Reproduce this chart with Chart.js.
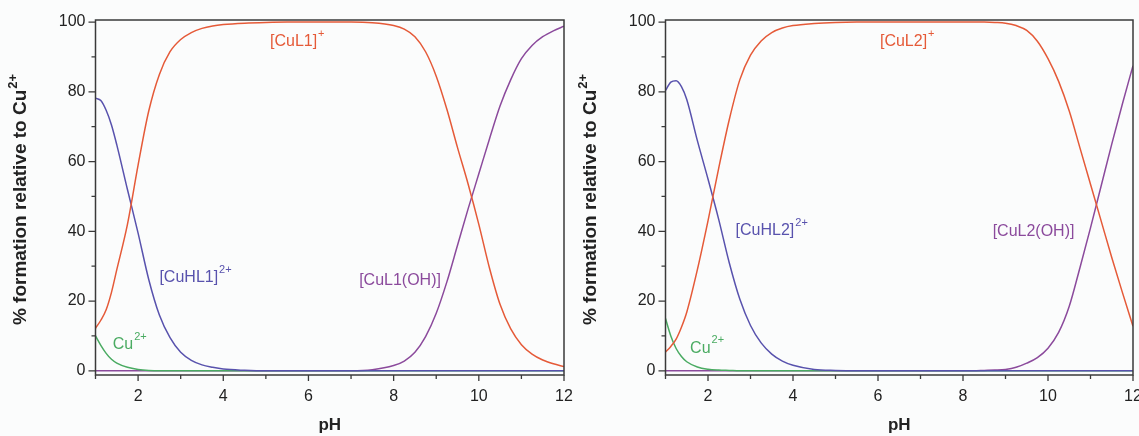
<!DOCTYPE html>
<html>
<head>
<meta charset="utf-8">
<script src="https://cdn.jsdelivr.net/npm/chart.js@4"></script>
<style>
  body { margin: 0; background: #fbfcfc; }
  #wrap { position: relative; width: 1139px; height: 436px; overflow: hidden; }
  .panel { position: absolute; top: 0; }
</style>
</head>
<body>
<div id="wrap">
  <canvas class="panel" id="chart1" width="590" height="436" style="left:0"></canvas>
  <canvas class="panel" id="chart2" width="569" height="436" style="left:570px"></canvas>
</div>
<script>
// pH grid shared by both panels
const phGrid = [1, 1.125, 1.25, 1.375, 1.5, 1.75, 2, 2.25, 2.5, 2.75, 3, 3.25, 3.5, 3.75, 4,
  4.5, 5, 5.5, 6, 6.5, 7, 7.5, 8, 8.25, 8.5, 8.75, 9, 9.25, 9.5, 9.75, 10,
  10.25, 10.5, 10.75, 11, 11.25, 11.5, 11.75, 12];

// left panel (L1)
const cuL1 = [12.2, 14.5, 17.5, 22.5, 29, 42, 59, 74.5, 85, 91.5, 95, 97, 98.2, 98.9, 99.3,
  99.7, 99.9, 100, 100, 100, 100, 99.8, 99, 98, 95.8, 91.5, 84.5, 75, 64, 53.5, 42,
  29.5, 19, 12, 7.5, 4.8, 3.1, 2, 1.2];
const cuHL1 = [78.2, 77.5, 74.7, 70.5, 64.8, 52, 39.5, 26.2, 16, 9.5, 5.3, 3, 1.7, 1, 0.5,
  0.15, 0, 0, 0, 0, 0, 0, 0, 0, 0, 0, 0, 0, 0, 0, 0,
  0, 0, 0, 0, 0, 0, 0, 0];
const cuFree1 = [10, 7.3, 5, 3.3, 2.2, 1, 0.4, 0.1, 0, 0, 0, 0, 0, 0, 0,
  0, 0, 0, 0, 0, 0, 0, 0, 0, 0, 0, 0, 0, 0, 0, 0,
  0, 0, 0, 0, 0, 0, 0, 0];
const cuL1OH = [0, 0, 0, 0, 0, 0, 0, 0, 0, 0, 0, 0, 0, 0, 0,
  0, 0, 0, 0, 0, 0, 0.3, 1.5, 2.8, 5.3, 9.8, 16.5, 25.5, 36, 46.5, 56.5,
  66.5, 76, 83.5, 89.5, 93.3, 95.8, 97.5, 98.8];

// right panel (L2)
const cuL2 = [5.4, 7, 9.1, 12.5, 16.8, 29, 43, 58, 72, 83.5, 90.5, 94.6, 97, 98.3, 99,
  99.6, 99.9, 100, 100, 100, 100, 100, 100, 100, 100, 99.9, 99.7, 99, 97.6, 94.5, 89.5,
  83, 74.5, 64, 53.5, 43, 32.5, 22.5, 12.8];
const cuHL2 = [80.4, 82.8, 83.2, 81.5, 77.8, 66, 55, 43.5, 31, 20.5, 13, 8, 4.8, 2.8, 1.6,
  0.4, 0.1, 0, 0, 0, 0, 0, 0, 0, 0, 0, 0, 0, 0, 0, 0,
  0, 0, 0, 0, 0, 0, 0, 0];
const cuFree2 = [15, 10, 6.4, 4.1, 2.6, 1.1, 0.45, 0.2, 0.1, 0, 0, 0, 0, 0, 0,
  0, 0, 0, 0, 0, 0, 0, 0, 0, 0, 0, 0, 0, 0, 0, 0,
  0, 0, 0, 0, 0, 0, 0, 0];
const cuL2OH = [0, 0, 0, 0, 0, 0, 0, 0, 0, 0, 0, 0, 0, 0, 0,
  0, 0, 0, 0, 0, 0, 0, 0, 0, 0.1, 0.2, 0.4, 1, 2.2, 3.8, 6.5,
  11, 18.5, 29.5, 41, 53, 65, 76.5, 87.5];

const xTicks = [1, 2, 3, 4, 5, 6, 7, 8, 9, 10, 11, 12];
const yTicks = [0, 10, 20, 30, 40, 50, 60, 70, 80, 90, 100];

// species labels: [text, superscript, pH, %, colour]
const notes1 = [
  ["[CuL1]", "+", 5.65, 94.3, "red"],
  ["[CuHL1]", "2+", 3.19, 26.6, "blue"],
  ["Cu", "2+", 1.645, 7.4, "green"],
  ["[CuL1(OH)]", "", 8.15, 26, "purple"]
];
const notes2 = [
  ["[CuL2]", "+", 6.6, 94.3, "red"],
  ["[CuHL2]", "2+", 3.34, 40.2, "blue"],
  ["Cu", "2+", 1.82, 6.5, "green"],
  ["[CuL2(OH)]", "", 9.66, 39.8, "purple"]
];

const colors = { red: "#e55a38", blue: "#5852ad", green: "#4aab62", purple: "#8b4a9c" };
const fontFam = '"Liberation Sans", Arial, sans-serif';

function framePlugin(notes) {
  return {
    id: "frame",
    afterDraw(chart) {
      const ctx = chart.ctx;
      const a = chart.chartArea;
      const xs = chart.scales.x;
      const ys = chart.scales.y;
      ctx.save();
      ctx.strokeStyle = "#3a3a3a";
      ctx.lineWidth = 1.5;
      ctx.strokeRect(a.left, a.top, a.right - a.left, a.bottom - a.top);
      ctx.lineWidth = 1.3;
      ctx.beginPath();
      xTicks.forEach((v) => {
        const px = xs.getPixelForValue(v);
        ctx.moveTo(px, a.bottom);
        ctx.lineTo(px, a.bottom + (v % 2 === 0 ? 6 : 4));
      });
      yTicks.forEach((v) => {
        const py = ys.getPixelForValue(v);
        ctx.moveTo(a.left, py);
        ctx.lineTo(a.left - (v % 20 === 0 ? 7 : 4), py);
      });
      ctx.stroke();

      // species labels
      notes.forEach(([txt, sup, x, y, c]) => {
        const px = xs.getPixelForValue(x);
        const py = ys.getPixelForValue(y);
        ctx.fillStyle = colors[c];
        ctx.font = "16px " + fontFam;
        ctx.textAlign = "center";
        ctx.textBaseline = "middle";
        ctx.fillText(txt, px, py);
        const w = ctx.measureText(txt).width;
        if (sup) {
          ctx.font = "11px " + fontFam;
          ctx.textAlign = "left";
          ctx.fillText(sup, px + w / 2 + 1, py - 8);
        }
      });

      // y axis title with superscript
      ctx.fillStyle = "#222";
      ctx.translate(21, (a.top + a.bottom) / 2 + 2);
      ctx.rotate(-Math.PI / 2);
      ctx.font = "bold 19px " + fontFam;
      ctx.textAlign = "left";
      ctx.textBaseline = "middle";
      const main = "% formation relative to Cu";
      const w1 = ctx.measureText(main).width;
      ctx.font = "bold 13px " + fontFam;
      const w2 = ctx.measureText("2+").width;
      const start = -(w1 + w2 + 1) / 2;
      ctx.font = "bold 19px " + fontFam;
      ctx.fillText(main, start, 0);
      ctx.font = "bold 13px " + fontFam;
      ctx.fillText("2+", start + w1 + 1, -8);
      ctx.restore();
    }
  };
}

function makeChart(id, series, notes, padRight) {
  const datasets = series.map(([vals, c]) => ({
    data: phGrid.map((x, i) => ({ x: x, y: vals[i] })),
    borderColor: colors[c],
    borderWidth: 1.5,
    pointRadius: 0,
    fill: false,
    cubicInterpolationMode: "monotone"
  }));

  return new Chart(document.getElementById(id), {
    type: "line",
    data: { datasets },
    options: {
      responsive: false,
      animation: false,
      layout: { padding: { left: 0, right: padRight, top: 20, bottom: 0 } },
      plugins: { legend: { display: false }, tooltip: { enabled: false } },
      scales: {
        x: {
          type: "linear",
          min: 1,
          max: 12,
          afterBuildTicks: (s) => { s.ticks = xTicks.map((v) => ({ value: v })); },
          afterFit: (s) => { s.height = 61; s.paddingLeft = 0; s.paddingRight = 0; },
          ticks: {
            autoSkip: false,
            maxRotation: 0,
            padding: 6,
            color: "#222",
            font: { size: 16, family: fontFam },
            callback: (v) => (v % 2 === 0 ? String(v) : "")
          },
          grid: { drawOnChartArea: false, tickLength: 6, color: "transparent" },
          border: { display: false },
          title: {
            display: true,
            text: "pH",
            color: "#222",
            font: { size: 17, weight: "bold", family: fontFam },
            padding: { top: 0, bottom: 0 }
          }
        },
        y: {
          min: -1.2,
          max: 100.6,
          afterBuildTicks: (s) => { s.ticks = yTicks.map((v) => ({ value: v })); },
          afterFit: (s) => { s.width = 95.5; s.paddingTop = 0; s.paddingBottom = 0; },
          ticks: {
            autoSkip: false,
            padding: 3,
            color: "#222",
            font: { size: 16, family: fontFam },
            callback: (v) => (v % 20 === 0 ? String(v) : "")
          },
          grid: { drawOnChartArea: false, tickLength: 7, color: "transparent" },
          border: { display: false }
        }
      }
    },
    plugins: [framePlugin(notes)]
  });
}

makeChart("chart1", [[cuL1, "red"], [cuHL1, "blue"], [cuFree1, "green"], [cuL1OH, "purple"]], notes1, 26);
makeChart("chart2", [[cuL2, "red"], [cuHL2, "blue"], [cuFree2, "green"], [cuL2OH, "purple"]], notes2, 6);
</script>
</body>
</html>
